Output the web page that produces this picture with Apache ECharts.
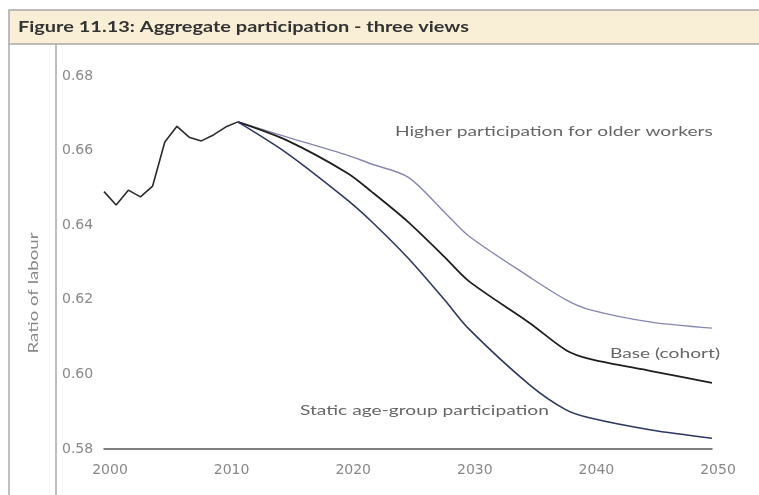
<!DOCTYPE html>
<html>
<head>
<meta charset="utf-8">
<script src="https://cdn.jsdelivr.net/npm/echarts@6/dist/echarts.min.js"></script>
<style>
  html, body { margin: 0; padding: 0; background: #fff; }
  #chart { width: 759px; height: 495px; }
</style>
</head>
<body>
<div id="chart"></div>
<script>
// historical (black) line
const histYears = [2000, 2001, 2002, 2003, 2004, 2005, 2006, 2007, 2008, 2009, 2010, 2011];
const histValues = [0.649, 0.6454, 0.6494, 0.6476, 0.6505, 0.6623, 0.6665, 0.6636, 0.6626, 0.6642, 0.6663, 0.6677];

// projections
const projYears = [2011, 2015, 2020, 2022, 2025, 2028, 2030, 2035, 2038, 2040, 2045, 2050];
const higherValues = [0.6677, 0.6637, 0.6588, 0.6564, 0.6529, 0.6435, 0.6371, 0.6261, 0.6200, 0.6173, 0.6140, 0.6124];
const baseValues   = [0.6677, 0.6628, 0.6540, 0.6490, 0.6409, 0.6315, 0.6250, 0.6138, 0.6065, 0.6041, 0.6009, 0.5977];
const staticValues = [0.6677, 0.6594, 0.6468, 0.6410, 0.6312, 0.6200, 0.6122, 0.5972, 0.5905, 0.5883, 0.5851, 0.5829];

const yTicks = [0.58, 0.60, 0.62, 0.64, 0.66, 0.68];
const xTicks = [2000, 2010, 2020, 2030, 2040, 2050];

const titleText = 'Figure 11.13: Aggregate participation - three views';
const labelHigher = 'Higher participation for older workers';
const labelBase = 'Base (cohort)';
const labelStatic = 'Static age-group participation';

const zip = (xs, ys) => xs.map((x, i) => [x, ys[i]]);

const chart = echarts.init(document.getElementById('chart'));
const font = 'Lato, "Open Sans", sans-serif';
const axisFont = '"DejaVu Sans", sans-serif';
// the original is drawn a bit wide, so the texts are stretched sideways
const stretch = 1.37;

chart.setOption({
  animation: false,
  grid: { left: 104, right: 47, top: 76, bottom: 46 },
  xAxis: {
    type: 'value',
    min: 2000, max: 2050, interval: 10,
    axisLine: { show: true, lineStyle: { color: '#555', width: 1.5 } },
    axisTick: { show: false },
    splitLine: { show: false },
    axisLabel: {
      color: '#888', fontSize: 14, fontFamily: axisFont, margin: 14,
      padding: [0, 0, 0, 12],
      formatter: v => xTicks.includes(v) ? String(v) : ''
    }
  },
  yAxis: {
    type: 'value',
    min: 0.58, max: 0.68, interval: 0.02,
    axisLine: { show: false },
    axisTick: { show: false },
    splitLine: { show: false },
    axisLabel: {
      color: '#888', fontSize: 14, fontFamily: axisFont, align: 'left', margin: 42,
      formatter: v => yTicks.find(t => Math.abs(t - v) < 1e-6) !== undefined ? v.toFixed(2) : ''
    }
  },
  series: [
    {
      name: 'History', type: 'line', data: zip(histYears, histValues),
      showSymbol: false, lineStyle: { color: '#2a2a2a', width: 1.6 }, z: 3
    },
    {
      name: labelHigher, type: 'line', data: zip(projYears, higherValues), smooth: 0.3,
      showSymbol: false, lineStyle: { color: '#8686b4', width: 1.4 }
    },
    {
      name: labelBase, type: 'line', data: zip(projYears, baseValues), smooth: 0.3,
      showSymbol: false, lineStyle: { color: '#1e1e1e', width: 1.8 }, z: 3
    },
    {
      name: labelStatic, type: 'line', data: zip(projYears, staticValues), smooth: 0.3,
      showSymbol: false, lineStyle: { color: '#2c3862', width: 1.6 }
    }
  ],
  graphic: [
    { type: 'rect', z: 0, shape: { x: 9, y: 10, width: 760, height: 34 },
      style: { fill: '#f8efd6', stroke: '#a9a9a9', lineWidth: 1.5 } },
    { type: 'text', z: 1, x: 18, y: 27, scaleX: 1.33,
      style: { text: titleText, fill: '#333', font: 'bold 15px ' + font, textVerticalAlign: 'middle' } },
    { type: 'line', shape: { x1: 9, y1: 44, x2: 9, y2: 495 }, style: { stroke: '#a9a9a9', lineWidth: 1.5 } },
    { type: 'line', shape: { x1: 56, y1: 44, x2: 56, y2: 495 }, style: { stroke: '#a9a9a9', lineWidth: 1.5 } },
    { type: 'text', x: 33, y: 293, rotation: Math.PI / 2, scaleX: 1.33,
      style: { text: 'Ratio of labour', fill: '#888', font: '14px ' + font, align: 'center', verticalAlign: 'middle' } },
    { type: 'text', x: 395, y: 131, scaleX: stretch,
      style: { text: labelHigher, fill: '#666', font: '14px ' + font, verticalAlign: 'middle' } },
    { type: 'text', x: 720, y: 353, scaleX: stretch,
      style: { text: labelBase, fill: '#666', font: '14px ' + font, align: 'right', verticalAlign: 'middle' } },
    { type: 'text', x: 300, y: 410, scaleX: stretch,
      style: { text: labelStatic, fill: '#666', font: '14px ' + font, verticalAlign: 'middle' } }
  ]
});
</script>
</body>
</html>
